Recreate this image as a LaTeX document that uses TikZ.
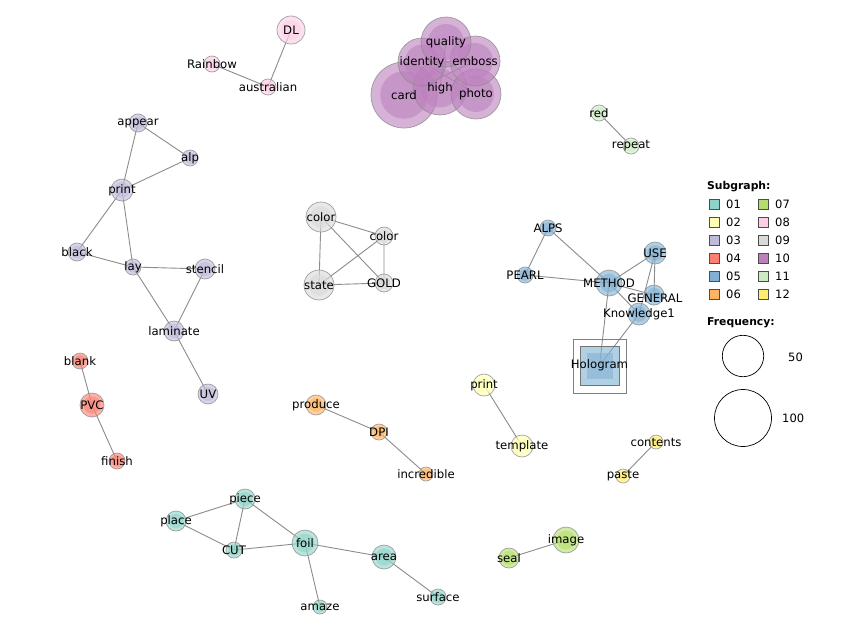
\documentclass[tikz,border=0pt]{standalone}
\usepackage{fontspec}
\setmainfont{DejaVu Sans}
\begin{document}
\begin{tikzpicture}[x=1pt,y=-1pt,
  vcirc/.style={circle,inner sep=0pt,draw=black!45,line width=0.7pt,fill opacity=0.6,draw opacity=0.8},
  vlabel/.style={inner sep=0pt,font=\fontsize{11.7}{11}\selectfont,text=black},
  edge/.style={draw=black!45,line width=0.9pt},
  legbox/.style={draw=black!70,line width=0.7pt,minimum size=10pt,inner sep=0pt},
  legtext/.style={inner sep=0pt,anchor=west,font=\fontsize{11.5}{11}\selectfont},
  legtitle/.style={inner sep=0pt,anchor=west,font=\fontsize{10.8}{11}\selectfont\bfseries}]
\pgfdeclarelayer{bg}\pgfdeclarelayer{fg}\pgfdeclarelayer{paper}
\pgfsetlayers{paper,bg,main,fg}
\definecolor{c01}{HTML}{8DD3C7}\definecolor{c02}{HTML}{FFFFB3}
\definecolor{c03}{HTML}{BEBADA}\definecolor{c04}{HTML}{FB8072}
\definecolor{c05}{HTML}{80B1D3}\definecolor{c06}{HTML}{FDB462}
\definecolor{c07}{HTML}{B3DE69}\definecolor{c08}{HTML}{FCCDE5}
\definecolor{c09}{HTML}{D9D9D9}\definecolor{c10}{HTML}{BC80BD}
\definecolor{c11}{HTML}{CCEBC5}\definecolor{c12}{HTML}{FFED6F}
\newcommand{\vn}[6]{%
  \node[vcirc,fill=#5,minimum size={2*#4pt}] (#1) at (#2,#3) {};
  \fill[#5,fill opacity=0.55] (#1.center) circle[radius={0.72*#4}];
  \begin{pgfonlayer}{fg}\node[vlabel] (#1-l) at (#1.center) {#6};\end{pgfonlayer}}
\begin{pgfonlayer}{paper}\fill[white] (0,0) rectangle (853,640);\end{pgfonlayer}
\useasboundingbox (0,0) rectangle (853,640);
% group 08
\vn{DL}{291}{30}{14}{c08}{DL}
\vn{rainbow}{212}{64}{8}{c08}{Rainbow}
\vn{australian}{268}{87}{8}{c08}{australian}
% group 10
\vn{card}{404}{95}{33}{c10}{card}
\vn{high}{440}{88}{27}{c10}{high}
\vn{photo}{476}{94}{25}{c10}{photo}
\vn{identity}{422}{62}{24}{c10}{identity}
\vn{emboss}{475}{61}{25}{c10}{emboss}
\vn{quality}{446}{42}{25}{c10}{quality}
% group 11
\vn{red}{599}{113}{8}{c11}{red}
\vn{repeat}{631}{146}{8}{c11}{repeat}
% group 03
\vn{appear}{138}{123}{9}{c03}{appear}
\vn{alp}{190}{158}{8}{c03}{alp}
\vn{printA}{122}{190}{11}{c03}{print}
\vn{black}{77}{252}{9}{c03}{black}
\vn{lay}{133}{267}{8}{c03}{lay}
\vn{stencil}{205}{269}{10}{c03}{stencil}
\vn{laminate}{174}{331}{10}{c03}{laminate}
\vn{UV}{208}{394}{10}{c03}{UV}
% group 09
\vn{colorA}{321}{217}{15}{c09}{color}
\vn{colorB}{384}{236}{9}{c09}{color}
\vn{state}{319}{285}{15}{c09}{state}
\vn{GOLD}{384}{283}{9}{c09}{GOLD}
% group 05
\vn{ALPS}{548}{228}{8}{c05}{ALPS}
\vn{PEARL}{525}{275}{8}{c05}{PEARL}
\vn{METHOD}{609}{283}{13}{c05}{METHOD}
\vn{USE}{655}{253}{11}{c05}{USE}
\vn{GENERAL}{654}{295}{10}{c05}{}
\vn{know}{639}{314}{11}{c05}{}
\begin{pgfonlayer}{fg}
\node[vlabel] at (655,298) {GENERAL};
\node[vlabel] at (639,314) {Knowledge1};
\end{pgfonlayer}
\draw[black!50,line width=0.7pt] (573,339) rectangle (626,393);
\node[rectangle,inner sep=0pt,minimum size=39pt,fill=c05,fill opacity=0.6,draw=black!55,line width=0.7pt] (holo) at (599.5,365.5) {};
\fill[c05,fill opacity=0.55] (587,353) rectangle (613,379);
\begin{pgfonlayer}{fg}\node[vlabel] at (holo.center) {Hologram};\end{pgfonlayer}
% group 04
\vn{blank}{80}{361}{8}{c04}{blank}
\vn{PVC}{92}{405}{12}{c04}{PVC}
\vn{finish}{117}{461}{8}{c04}{finish}
% group 06
\vn{produce}{316}{405}{10}{c06}{produce}
\vn{DPI}{379}{432}{8}{c06}{DPI}
\vn{incredible}{426}{474}{7}{c06}{incredible}
% group 02
\vn{printB}{484}{385}{11}{c02}{print}
\vn{template}{522}{446}{11}{c02}{template}
% group 12
\vn{contents}{656}{442}{7}{c12}{contents}
\vn{paste}{623}{476}{7}{c12}{paste}
% group 07
\vn{image}{566}{540}{13}{c07}{image}
\vn{seal}{509}{558}{10}{c07}{seal}
% group 01
\vn{piece}{245}{499}{10}{c01}{piece}
\vn{place}{176}{521}{10}{c01}{place}
\vn{CUT}{234}{550}{8}{c01}{CUT}
\vn{foil}{305}{543}{13}{c01}{foil}
\vn{area}{384}{557}{12}{c01}{area}
\vn{amaze}{320}{607}{7}{c01}{amaze}
\vn{surface}{438}{597}{8}{c01}{surface}
% edges
\begin{pgfonlayer}{bg}
\draw[edge] (rainbow.center)--(australian.center) (DL.center)--(australian.center);
\draw[edge] (identity.center)--(emboss.center) (quality.center)--(high.center)
  (identity.center)--(photo.center) (card.center)--(emboss.center);
\draw[edge] (red.center)--(repeat.center);
\draw[edge] (appear.center)--(alp.center) (appear.center)--(printA.center)
  (alp.center)--(printA.center) (printA.center)--(black.center)
  (printA.center)--(lay.center) (black.center)--(lay.center)
  (lay.center)--(stencil.center) (lay.center)--(laminate.center)
  (stencil.center)--(laminate.center) (laminate.center)--(UV.center);
\draw[edge] (colorA.center)--(colorB.center) (colorA.center)--(state.center)
  (colorA.center)--(GOLD.center) (colorB.center)--(state.center)
  (colorB.center)--(GOLD.center) (state.center)--(GOLD.center);
\draw[edge] (ALPS.center)--(PEARL.center) (ALPS.center)--(METHOD.center)
  (PEARL.center)--(METHOD.center) (METHOD.center)--(USE.center)
  (METHOD.center)--(GENERAL.center) (METHOD.center)--(know.center)
  (METHOD.center)--(holo.center) (USE.center)--(GENERAL.center)
  (USE.center)--(know.center) (know.center)--(holo.center);
\draw[edge] (blank.center)--(PVC.center) (PVC.center)--(finish.center);
\draw[edge] (produce.center)--(DPI.center) (DPI.center)--(incredible.center);
\draw[edge] (printB.center)--(template.center);
\draw[edge] (contents.center)--(paste.center);
\draw[edge] (image.center)--(seal.center);
\draw[edge] (place.center)--(piece.center) (place.center)--(CUT.center)
  (piece.center)--(CUT.center) (piece.center)--(foil.center)
  (CUT.center)--(foil.center) (foil.center)--(area.center)
  (foil.center)--(amaze.center) (area.center)--(surface.center);
\end{pgfonlayer}
% legend
\node[legtitle] (subg) at (707,187) {Subgraph:};
\foreach \n/\c/\yy in {01/c01/204,02/c02/222,03/c03/240,04/c04/258,05/c05/276,06/c06/294}{
  \node[legbox,fill=\c] (lb\n) at (714,\yy) {};
  \node[legtext] at (726,\yy) {\n};}
\foreach \n/\c/\yy in {07/c07/204,08/c08/222,09/c09/240,10/c10/258,11/c11/276,12/c12/294}{
  \node[legbox,fill=\c] (lb\n) at (763,\yy) {};
  \node[legtext] at (775,\yy) {\n};}
\node[legtitle] (freq) at (707,323) {Frequency:};
\node[circle,draw=black,line width=0.7pt,minimum size=41.4pt,inner sep=0pt] (f50) at (743,356) {};
\node[legtext] at (788,357) {50};
\node[circle,draw=black,line width=0.7pt,minimum size=57pt,inner sep=0pt] (f100) at (743,418) {};
\node[legtext] at (782,418) {100};
\end{tikzpicture}
\end{document}
